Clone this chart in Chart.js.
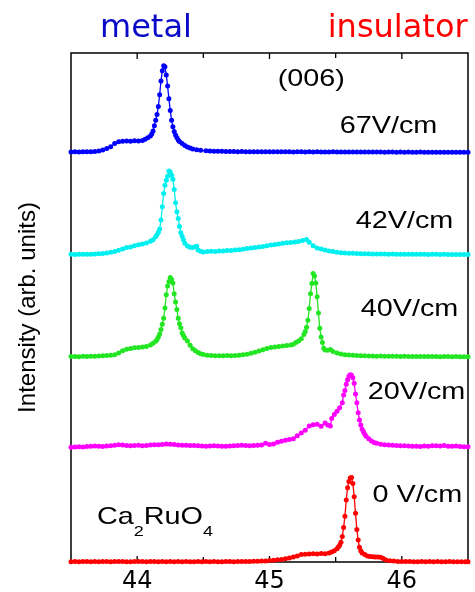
<!DOCTYPE html>
<html><head><meta charset="utf-8">
<script src="https://cdn.jsdelivr.net/npm/chart.js@4.4.1/dist/chart.umd.min.js"></script>
<style>html,body{margin:0;padding:0;background:#fff;}canvas{display:block;}</style>
</head><body>
<canvas id="c" width="475" height="592"></canvas>
<script>
// ---------- data (2θ in degrees, intensity in arb. units above each trace baseline) ----------
const xBlue = [43.50,43.53,43.56,43.59,43.62,43.65,43.68,43.71,43.74,43.77,43.80,43.83,43.86,43.89,43.92,43.95,43.98,44.01,44.04,
  44.06,44.08,
  44.10,44.11,44.12,44.13,44.14,44.15,44.16,44.17,44.18,44.19,44.20,44.21,44.22,44.23,44.24,44.25,44.26,44.27,44.28,44.29,44.30,44.31,44.32,
  44.34,44.36,44.38,44.40,44.42,44.45,44.48,
  44.52,44.55,44.58,44.61,44.64,44.67,44.70,44.73,44.76,44.79,44.82,44.85,44.88,44.91,44.94,44.97,45.00,45.03,45.06,45.09,
  45.12,45.15,45.18,45.21,45.24,45.27,45.30,45.33,45.36,45.39,45.42,45.45,45.48,45.51,45.54,45.57,45.60,45.63,45.66,45.69,
  45.72,45.75,45.78,45.81,45.84,45.87,45.90,45.93,45.96,45.99,46.02,46.05,46.08,46.11,46.14,46.17,46.20,46.23,46.26,46.29,
  46.32,46.35,46.38,46.41,46.44,46.47,46.50];
const yBlue = [0.05,0.08,0.05,0.10,0.08,0.12,0.15,0.25,0.45,0.75,1.10,1.70,2.05,2.15,2.20,2.18,2.24,2.22,2.30,
  2.55,2.85,
  3.20,3.60,4.20,5.20,6.30,7.40,9.00,11.3,14.0,16.0,17.0,16.8,15.2,13.0,10.5,8.2,6.3,5.0,4.1,3.4,2.9,2.4,2.1,
  1.70,1.35,1.05,0.85,0.65,0.50,0.38,
  0.30,0.26,0.22,0.20,0.18,0.16,0.15,0.14,0.12,0.13,0.11,0.12,0.10,0.11,0.09,0.10,0.11,0.08,0.10,0.09,
  0.08,0.10,0.07,0.09,0.08,0.06,0.08,0.07,0.09,0.06,0.07,0.05,0.08,0.06,0.05,0.07,0.04,0.06,0.05,0.03,
  0.05,0.04,0.06,0.03,0.04,0.02,0.05,0.03,0.02,0.04,0.01,0.03,0.02,0.00,0.03,0.01,0.02,0.00,0.02,0.01,
  0.00,0.02,0.01,-0.01,0.01,0.00,0.01];

const xCyan = [43.50,43.53,43.56,43.59,43.62,43.65,43.68,43.71,43.74,43.77,43.80,43.83,43.86,43.89,43.92,43.95,43.98,44.01,44.04,44.07,
  44.10,44.12,
  44.14,44.15,44.16,44.17,44.18,44.19,44.20,44.21,44.22,44.23,44.24,44.25,44.26,44.27,44.28,44.29,44.30,44.31,44.32,44.33,44.34,44.35,44.36,
  44.38,44.40,44.42,44.44,44.45,44.46,44.48,44.50,
  44.53,44.56,44.59,44.62,44.65,44.68,44.71,44.74,44.77,44.80,44.83,44.86,44.89,44.92,44.95,44.98,45.01,45.04,45.07,45.10,
  45.13,45.16,45.19,45.22,45.25,45.28,
  45.30,45.33,45.36,45.39,45.42,45.45,45.48,45.51,45.54,45.57,45.60,45.63,45.66,45.69,45.72,45.75,45.78,45.81,45.84,45.87,
  45.90,45.93,45.96,45.99,46.02,46.05,46.08,46.11,46.14,46.17,46.20,46.23,46.26,46.29,46.32,46.35,46.38,46.41,46.44,46.47,46.50];
const yCyan = [0.05,0.02,0.06,0.04,0.08,0.06,0.10,0.15,0.20,0.30,0.45,0.60,0.85,1.10,1.38,1.50,1.72,1.95,2.10,2.28,
  2.60,2.90,
  3.50,3.90,4.40,5.00,6.80,9.40,12.0,13.6,14.6,15.4,16.4,16.2,15.6,14.8,12.8,10.2,8.4,7.1,5.5,4.3,3.6,2.9,2.2,
  1.70,1.45,1.40,1.55,1.65,0.90,0.65,0.50,
  0.60,0.66,0.62,0.72,0.70,0.78,0.82,0.88,0.95,1.05,1.20,1.30,1.38,1.50,1.58,1.75,1.88,1.98,2.10,2.22,
  2.30,2.35,2.45,2.55,2.78,2.95,
  2.40,1.75,1.30,1.10,0.90,0.72,0.58,0.45,0.38,0.32,0.26,0.24,0.20,0.18,0.16,0.15,0.13,0.12,0.10,0.11,
  0.08,0.09,0.07,0.08,0.06,0.07,0.05,0.06,0.04,0.05,0.03,0.05,0.04,0.02,0.04,0.03,0.02,0.03,0.01,0.02,0.01];

const xGreen = [43.50,43.53,43.56,43.59,43.62,43.65,43.68,43.71,43.74,43.77,43.80,43.83,43.86,43.89,43.92,43.95,43.98,44.01,44.04,44.07,
  44.10,44.12,
  44.14,44.15,44.16,44.17,44.18,44.19,44.20,44.21,44.22,44.23,44.24,44.25,44.26,44.27,44.28,44.29,44.30,44.31,44.32,44.33,44.34,44.35,44.36,
  44.38,44.40,44.42,44.44,44.46,44.48,44.50,
  44.53,44.56,44.59,44.62,44.65,44.68,44.71,44.74,44.77,44.80,44.83,44.86,44.89,44.92,44.95,44.98,45.01,45.04,45.07,45.10,45.13,45.16,
  45.18,45.20,45.22,45.24,
  45.26,45.27,45.28,45.29,45.30,45.31,45.32,45.33,45.34,45.35,45.36,45.37,45.38,45.39,45.40,45.41,45.42,
  45.44,45.46,45.48,
  45.51,45.54,45.57,45.60,45.63,45.66,45.69,45.72,45.75,45.78,45.81,45.84,45.87,45.90,45.93,45.96,45.99,46.02,46.05,46.08,
  46.11,46.14,46.17,46.20,46.23,46.26,46.29,46.32,46.35,46.38,46.41,46.44,46.47,46.50];
const yGreen = [0.05,0.08,0.04,0.10,0.07,0.12,0.10,0.15,0.20,0.25,0.30,0.42,0.75,1.20,1.50,1.65,1.78,1.85,1.95,2.05,
  2.35,2.70,
  3.05,3.40,3.90,4.50,5.40,6.40,7.60,9.60,12.2,13.9,14.8,15.6,15.2,14.5,12.4,10.8,9.3,7.6,6.5,5.7,4.7,4.2,3.7,
  3.10,2.30,1.60,1.20,0.85,0.60,0.45,
  0.32,0.28,0.22,0.20,0.22,0.25,0.24,0.28,0.32,0.40,0.50,0.70,0.90,1.15,1.40,1.65,1.82,1.95,2.05,2.15,2.22,2.32,
  2.50,2.80,3.10,3.55,
  4.40,5.00,5.80,7.20,9.5,12.4,14.4,16.4,15.9,14.5,11.8,8.6,5.6,3.9,2.8,1.7,1.35,
  1.30,1.45,1.05,
  0.75,0.55,0.42,0.35,0.30,0.26,0.24,0.20,0.18,0.17,0.14,0.15,0.12,0.13,0.10,0.11,0.09,0.10,0.08,0.09,
  0.07,0.08,0.06,0.07,0.05,0.06,0.04,0.06,0.05,0.03,0.05,0.04,0.03,0.04];

const xMagenta = [43.50,43.53,43.56,43.59,43.62,43.65,43.68,43.71,43.74,43.77,43.80,43.83,43.86,43.89,43.92,43.95,43.98,44.01,44.04,44.07,
  44.10,44.13,44.16,44.19,44.22,44.25,44.28,44.31,44.34,44.37,44.40,44.43,44.46,44.49,44.52,44.55,44.58,44.61,44.64,44.67,
  44.70,44.73,44.76,44.79,44.82,44.85,44.88,44.91,44.94,44.97,45.00,45.03,45.06,45.09,45.12,45.15,45.18,45.21,45.24,45.27,
  45.30,45.33,45.36,45.39,45.42,
  45.44,45.46,45.47,45.49,45.51,45.53,45.55,
  45.56,45.57,45.58,45.59,45.60,45.61,45.62,45.63,45.64,45.65,45.66,45.67,45.68,45.69,45.70,45.71,45.72,45.73,
  45.75,45.77,45.79,45.81,
  45.84,45.87,45.90,45.93,45.96,45.99,46.02,46.05,46.08,46.11,46.14,46.17,46.20,46.23,46.26,46.29,46.32,46.35,46.38,46.41,
  46.44,46.47,46.50];
const yMagenta = [0.05,0.08,0.12,0.10,0.18,0.25,0.28,0.22,0.20,0.28,0.35,0.45,0.52,0.50,0.40,0.32,0.38,0.45,0.35,0.40,
  0.48,0.52,0.55,0.60,0.68,0.65,0.58,0.50,0.45,0.42,0.40,0.38,0.36,0.30,0.25,0.28,0.32,0.30,0.26,0.24,
  0.30,0.36,0.40,0.42,0.38,0.35,0.38,0.42,0.50,0.85,0.60,0.70,1.05,1.20,1.40,1.55,1.70,2.30,2.85,3.40,
  4.20,4.45,4.55,4.15,4.80,
  4.40,4.20,5.70,6.50,7.10,7.80,8.80,
  10.3,11.2,12.4,13.3,14.0,14.3,14.2,13.7,12.6,10.5,8.8,6.8,5.4,4.4,3.6,3.1,2.6,2.2,
  1.70,1.25,1.00,0.82,
  0.62,0.55,0.48,0.42,0.40,0.35,0.33,0.30,0.25,0.22,0.20,0.28,0.24,0.32,0.36,0.30,0.38,0.25,0.22,0.30,
  0.18,0.15,0.12];

const xRed = [43.50,43.53,43.56,43.59,43.62,43.65,43.68,43.71,43.74,43.77,43.80,43.83,43.86,43.89,43.92,43.95,43.98,44.01,44.04,44.07,
  44.10,44.13,44.16,44.19,44.22,44.25,44.28,44.31,44.34,44.37,44.40,44.43,44.46,44.49,44.52,44.55,44.58,44.61,44.64,44.67,
  44.70,44.73,44.76,44.79,44.82,44.85,44.88,44.91,44.94,44.97,45.00,45.03,45.06,45.09,45.12,45.15,45.18,45.21,45.24,45.27,
  45.30,45.33,45.36,45.39,45.42,45.45,
  45.47,45.49,45.51,
  45.52,45.53,45.54,45.55,45.56,45.57,45.58,45.59,45.60,45.61,45.62,45.63,45.64,45.65,45.66,45.67,45.68,45.69,45.70,
  45.72,45.74,45.76,45.78,45.80,45.82,45.84,45.86,45.88,
  45.91,45.94,45.97,46.00,46.03,46.06,46.09,46.12,46.15,46.18,46.21,46.24,46.27,46.30,46.33,46.36,46.39,46.42,46.45,46.48,
  46.50];
const yRed = [0.05,0.10,0.06,0.12,0.08,0.05,0.10,0.07,0.12,0.08,0.06,0.10,0.08,0.12,0.07,0.05,0.10,0.08,0.12,0.06,
  0.10,0.08,0.05,0.09,0.07,0.11,0.06,0.08,0.05,0.10,0.07,0.05,0.09,0.06,0.08,0.05,0.10,0.07,0.06,0.09,
  0.08,0.06,0.10,0.08,0.12,0.10,0.15,0.14,0.18,0.22,0.28,0.35,0.42,0.50,0.62,0.80,1.00,1.20,1.45,1.50,
  1.58,1.62,1.55,1.68,1.62,1.75,
  1.95,2.20,2.60,
  2.95,3.30,3.90,5.00,6.80,9.0,12.2,14.6,15.8,16.5,16.6,15.4,12.8,9.6,6.4,4.3,2.9,2.2,1.75,
  1.45,1.20,1.10,1.05,1.00,0.98,0.92,0.70,0.40,
  0.25,0.18,0.12,0.10,0.08,0.12,0.07,0.05,0.09,0.06,0.10,0.05,0.08,0.06,0.04,0.08,0.05,0.07,0.04,0.06,
  0.05];

const seriesX = [xBlue, xCyan, xGreen, xMagenta, xRed];
const seriesY = [yBlue, yCyan, yGreen, yMagenta, yRed];
const seriesNames = ['67V/cm', '42V/cm', '40V/cm', '20V/cm', '0 V/cm'];
const seriesOffsets = [80.5, 60.4, 40.3, 22.5, 0];   // vertical stacking offsets (arb. units)
const seriesColors = ['#0000ff', '#00f0f0', '#22e622', '#ff00ff', '#ff0000'];
const xTickLabels = [44, 45, 46];

// ---------- text annotations (positions in data coordinates) ----------
const voltAnchors = [[45.53, 84.3], [45.651, 65.6], [45.689, 48.3], [45.742, 32.0], [45.779, 11.8]];

const STRETCH = 1.2;
function stretchedText(ctx, txt, x, y, font, color, sx) {
  ctx.save();
  ctx.font = font; ctx.fillStyle = color;
  ctx.textAlign = 'left'; ctx.textBaseline = 'alphabetic';
  const w = ctx.measureText(txt).width * sx;
  ctx.translate(x, y); ctx.scale(sx, 1);
  ctx.fillText(txt, 0, 0);
  ctx.restore();
  return w;
}

const decor = {
  id: 'decor',
  beforeDatasetsDraw(chart) {
    const {ctx, chartArea: a, scales: {x}} = chart;
    ctx.save();
    ctx.strokeStyle = '#000';
    ctx.lineWidth = 1.5;
    ctx.strokeRect(a.left, a.top, a.right - a.left, a.bottom - a.top);
    ctx.lineWidth = 1.3;
    x.ticks.forEach(t => {
      if (t.value <= x.min || t.value >= x.max) return;
      const px = x.getPixelForValue(t.value);
      const len = xTickLabels.includes(t.value) ? 6 : 5;
      ctx.beginPath();
      ctx.moveTo(px, a.top); ctx.lineTo(px, a.top + len);
      ctx.moveTo(px, a.bottom); ctx.lineTo(px, a.bottom - len);
      ctx.stroke();
    });
    ctx.restore();
  },
  afterDatasetsDraw(chart) {
    const {ctx, chartArea: a, scales: {x, y}} = chart;
    const f24 = '24px "Liberation Sans", Arial, sans-serif';
    const f15 = '15px "Liberation Sans", Arial, sans-serif';
    seriesNames.forEach((n, i) => {
      stretchedText(ctx, n, x.getPixelForValue(voltAnchors[i][0]), y.getPixelForValue(voltAnchors[i][1]), f24, '#000', STRETCH);
    });
    stretchedText(ctx, '(006)', x.getPixelForValue(45.062), y.getPixelForValue(93.5), f24, '#000', STRETCH);
    // Ca2RuO4 with subscripts
    let cx = x.getPixelForValue(43.696);
    const cy = y.getPixelForValue(7.47);
    cx += stretchedText(ctx, 'Ca', cx, cy, f24, '#000', STRETCH);
    cx += stretchedText(ctx, '2', cx, cy + 12, f15, '#000', STRETCH);
    cx += stretchedText(ctx, 'RuO', cx, cy, f24, '#000', STRETCH);
    stretchedText(ctx, '4', cx, cy + 12, f15, '#000', STRETCH);
    // metal / insulator header
    const fh = '32px "DejaVu Sans", sans-serif';
    stretchedText(ctx, 'metal', x.getPixelForValue(43.719), a.top - 16, fh, '#0a0ac8', 1);
    stretchedText(ctx, 'insulator', x.getPixelForValue(45.44), a.top - 16, fh, '#ff0000', 1);
  }
};

const datasets = seriesNames.map((n, i) => ({
  label: n,
  data: seriesX[i].map((xv, j) => ({x: xv, y: seriesY[i][j] + seriesOffsets[i]})),
  borderColor: seriesColors[i],
  backgroundColor: seriesColors[i],
  pointBackgroundColor: seriesColors[i],
  pointBorderWidth: 0,
  pointRadius: 2.5,
  borderWidth: 1.3,
  tension: 0,
  clip: false
}));

new Chart(document.getElementById('c'), {
  type: 'line',
  data: {datasets},
  options: {
    responsive: false,
    animation: false,
    devicePixelRatio: 1,
    layout: {padding: {top: 53, right: 7, left: 0, bottom: 0}},
    plugins: {legend: {display: false}, tooltip: {enabled: false}},
    scales: {
      x: {
        type: 'linear', min: 43.5, max: 46.5,
        grid: {display: false, drawTicks: false},
        border: {display: false},
        ticks: {
          stepSize: 0.5, autoSkip: false, maxRotation: 0, padding: 5, color: '#000',
          font: {family: 'DejaVu Sans', size: 24},
          callback: v => xTickLabels.includes(v) ? String(v) : ''
        },
        afterFit: s => { s.height = 30; }
      },
      y: {
        min: 0, max: 100,
        grid: {display: false},
        border: {display: false},
        ticks: {display: false},
        title: {
          display: true, text: 'Intensity (arb. units)', color: '#000',
          font: {family: 'Liberation Sans', size: 24},
          padding: {top: 14, bottom: 0}
        },
        afterFit: s => { s.width = 71; }
      }
    }
  },
  plugins: [decor]
});
</script>
</body></html>
